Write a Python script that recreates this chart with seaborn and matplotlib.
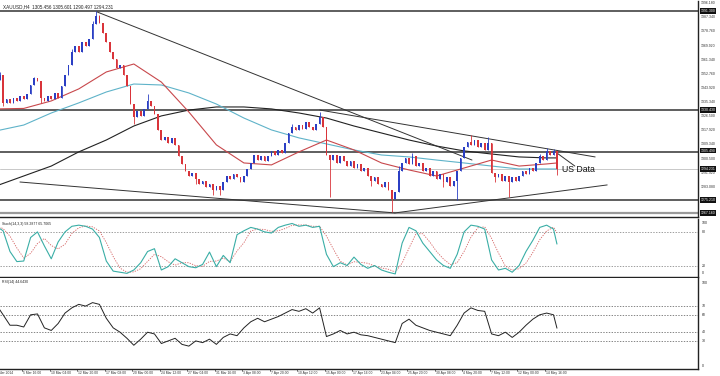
import numpy as np
import pandas as pd
import seaborn as sns
import matplotlib.pyplot as plt
from matplotlib.transforms import blended_transform_factory as blend

# XAUUSD, one candle per 8 hours (2 x H4)
open_first = 1346.0
closes = [
    1349, 1352, 1335, 1337, 1335, 1338, 1336, 1339, 1337, 1340,
    1346, 1350, 1348, 1338, 1336, 1339, 1337, 1341, 1338, 1345,
    1352, 1358, 1366, 1370, 1366, 1372, 1370, 1374, 1383, 1388,
    1384, 1378, 1372, 1366, 1362, 1356, 1358, 1352, 1345, 1334,
    1326, 1330, 1327, 1331, 1336, 1333, 1328, 1318, 1312, 1314,
    1310, 1313, 1309, 1302, 1297, 1293, 1290, 1292, 1288, 1285,
    1287, 1283, 1285, 1281, 1284, 1281, 1286, 1290, 1288, 1291,
    1289, 1286, 1290, 1294, 1298, 1303, 1300, 1302, 1299, 1302,
    1305, 1303, 1306, 1304, 1310, 1316, 1320, 1318, 1321, 1319,
    1323, 1320, 1318, 1322, 1326, 1320, 1303, 1300, 1303, 1298,
    1302, 1299, 1296, 1299, 1295, 1297, 1293, 1295, 1290, 1287,
    1289, 1285, 1283, 1286, 1281, 1276, 1280, 1293, 1298, 1301,
    1297, 1302, 1296, 1298, 1293, 1295, 1290, 1293, 1288, 1291,
    1286, 1289, 1284, 1287, 1293, 1301, 1308, 1311, 1309, 1312,
    1308, 1310, 1306, 1310, 1292, 1289, 1291, 1287, 1290, 1286,
    1289, 1287, 1290, 1293, 1291, 1295, 1293, 1298, 1302, 1300,
    1305, 1303, 1305.5, 1294.231,
]
wick_high = {1: 1354, 11: 1351, 22: 1368, 28: 1385, 29: 1391.5, 30: 1389, 44: 1340, 86: 1322,
             94: 1329, 117: 1296, 121: 1304, 138: 1315, 143: 1314, 158: 1303.5, 160: 1307,
             162: 1306.5}
wick_low = {2: 1333, 13: 1335, 40: 1322, 58: 1285, 63: 1278, 65: 1278, 97: 1277, 109: 1284,
            115: 1268, 130: 1283, 134: 1275, 145: 1286, 149: 1277, 163: 1290.5}

# moving averages, sampled every 8 candles
ma_idx = [0, 8, 16, 24, 32, 40, 48, 56, 64, 72, 80, 88, 96, 104, 112, 120, 128, 136, 144, 152, 160, 163]
ma_red = [1331.1, 1331.4, 1336.0, 1343.4, 1353.8, 1358.7, 1347.6, 1329.2, 1309.0, 1297.9, 1296.7,
          1304.7, 1312.0, 1305.9, 1297.9, 1293.6, 1289.9, 1294.8, 1299.7, 1296.0, 1297.3, 1297.9]
ma_cyan = [1317.6, 1321.2, 1328.6, 1334.8, 1341.5, 1346.4, 1345.8, 1340.9, 1334.1, 1325.5, 1318.2,
           1313.3, 1309.6, 1305.9, 1302.8, 1301.6, 1299.7, 1297.9, 1296.0, 1294.2, 1294.2, 1294.2]
ma_black = [1283.8, 1289.9, 1296.0, 1304.7, 1312.0, 1320.6, 1326.8, 1330.4, 1332.3, 1332.3, 1331.1,
            1328.6, 1325.5, 1320.6, 1316.3, 1312.0, 1308.3, 1305.3, 1303.4, 1301.6, 1301.0, 1301.0]

# oscillators, every 2 candles plus the last one
stoch_k = [90, 82, 45, 27, 28, 70, 80, 55, 32, 62, 80, 90, 92, 90, 85, 70, 28, 10, 8, 6,
           12, 25, 45, 50, 12, 18, 32, 25, 18, 16, 22, 44, 18, 38, 25, 75, 82, 88, 85, 80,
           78, 88, 92, 95, 90, 92, 88, 90, 40, 18, 25, 20, 35, 22, 15, 20, 12, 8, 5, 60,
           88, 82, 60, 45, 30, 20, 15, 40, 80, 92, 90, 85, 30, 12, 15, 8, 20, 45, 65, 88,
           92, 85, 58.29]
rsi = [72, 60, 48, 48, 46, 60, 61, 45, 42, 50, 62, 68, 72, 70, 74, 72, 56, 45, 40, 33,
       25, 32, 40, 38, 27, 30, 33, 26, 24, 30, 28, 32, 26, 34, 38, 36, 45, 52, 56, 52,
       55, 58, 62, 66, 64, 67, 62, 68, 35, 38, 42, 38, 40, 37, 36, 34, 32, 30, 28, 50,
       55, 48, 45, 42, 40, 38, 36, 48, 62, 68, 65, 64, 38, 36, 40, 34, 40, 48, 55, 60,
       62, 60, 44.64]

levels = [1391.3, 1330.4, 1304.6, 1275.2]
trendlines = [((29.3, 1390.7), (138.3, 1299.7)),
              ((94.1, 1330.4), (174.1, 1301.6)),
              ((6.9, 1286.2), (115.9, 1267.2)),
              ((115.9, 1267.2), (177.6, 1284.4)),
              ((163.0, 1304.0), (168.2, 1296.0))]

price_ticks = [1396.180, 1387.340, 1378.760, 1369.920, 1361.340, 1352.760, 1343.920, 1335.340,
               1326.500, 1317.920, 1309.340, 1300.500, 1291.920, 1283.080, 1274.500]
marked = [1391.300, 1330.430, 1305.490, 1294.231, 1275.210, 1267.160]
date_labels = ["3 Mar 2014", "5 Mar 16:00", "10 Mar 04:00", "12 Mar 20:00", "17 Mar 08:00",
               "20 Mar 00:00", "24 Mar 12:00", "27 Mar 04:00", "31 Mar 16:00", "3 Apr 08:00",
               "7 Apr 20:00", "10 Apr 12:00", "15 Apr 00:00", "17 Apr 16:00", "23 Apr 04:00",
               "25 Apr 20:00", "30 Apr 08:00", "4 May 20:00", "7 May 12:00", "12 May 00:00",
               "14 May 16:00"]

sns.set_theme(style="white")
plt.rcParams['font.family'] = ['Liberation Sans', 'DejaVu Sans']

n = len(closes)
idx = np.arange(n)
opens = np.r_[open_first, closes[:-1]]
closes_a = np.array(closes, dtype=float)
osc_idx = np.r_[np.arange(0, n - 1, 2), n - 1]
osc = pd.DataFrame({"j": osc_idx, "k": stoch_k, "rsi": rsi})
osc["d"] = osc["k"].rolling(3, min_periods=1).mean()

fig = plt.figure(figsize=(7.2, 3.76), dpi=100)
ax = fig.add_axes([0, 1 - 217 / 376, 698 / 720, 216 / 376])
ax_s = fig.add_axes([0, 1 - 277 / 376, 698 / 720, 58 / 376])
ax_r = fig.add_axes([0, 1 - 369 / 376, 698 / 720, 91 / 376])
xlim = (1.1, 204.0)
blue, red = "#2b3fc4", "#d9343a"
fs_axis = 2.5

# horizontal levels
for lv in levels:
    ax.axhline(lv, color="#333333", lw=1.1, zorder=1)
ax.axhline(1267.16, color="#9a9a9a", lw=1.6, zorder=1)
ax.axhline(1294.231, color="#c8c8c8", lw=0.7, zorder=1)

# moving averages
sns.lineplot(x=ma_idx, y=ma_black, ax=ax, color="#222222", lw=0.8, zorder=2)
sns.lineplot(x=ma_idx, y=ma_cyan, ax=ax, color="#5fb3c9", lw=0.8, zorder=2)
sns.lineplot(x=ma_idx, y=ma_red, ax=ax, color="#c8484c", lw=0.8, zorder=2)

for (x0, y0), (x1, y1) in trendlines:
    ax.plot([x0, x1], [y0, y1], color="#333333", lw=0.7, zorder=2)

# candles
for j in idx:
    o, c = opens[j], closes_a[j]
    col = blue if c >= o else red
    lo, hi = min(o, c), max(o, c)
    ax.vlines(j, wick_low.get(j, lo), wick_high.get(j, hi), color=col, lw=0.6, zorder=3)
    ax.bar(j, max(hi - lo, 0.4), bottom=lo, width=0.5, color=col, lw=0, zorder=3)

ax.text(164.5, 1294.0, "US Data", fontsize=6.3, color="#111111", va="center", ha="left")
ax.set_ylim(1264.7, 1397.4)

# stochastic
for lv in (80, 20):
    ax_s.axhline(lv, color="#777777", lw=0.5, ls=(0, (2, 2)))
sns.lineplot(data=osc, x="j", y="d", ax=ax_s, color="#d46060", lw=0.6, ls=(0, (1.5, 1.5)))
sns.lineplot(data=osc, x="j", y="k", ax=ax_s, color="#3aaea6", lw=0.8)
ax_s.set_ylim(-0.5, 103)

# RSI
for lv in (70, 60, 40, 30):
    ax_r.axhline(lv, color="#555555", lw=0.5, ls=(0, (2, 2)))
sns.lineplot(data=osc, x="j", y="rsi", ax=ax_r, color="#222222", lw=0.7)
ax_r.set_ylim(-2.3, 102.3)

for a in (ax, ax_s, ax_r):
    a.set_xlim(*xlim)
    a.set_xticks([])
    a.set_yticks([])
    a.set_xlabel("")
    a.set_ylabel("")
    a.set_facecolor("white")
    for side in ("left", "top"):
        a.spines[side].set_visible(False)
    for side in ("right", "bottom"):
        a.spines[side].set_color("#222222")
        a.spines[side].set_linewidth(1.0)

# right-hand price scale
tr = blend(ax.transAxes, ax.transData)
for p in price_ticks:
    ax.text(1.004, p, f"{p:.3f}", transform=tr, fontsize=fs_axis, va="center", ha="left",
            color="#333333", clip_on=False)
for p in marked:
    ax.text(1.004, p, f"{p:.3f}", transform=tr, fontsize=fs_axis, va="center", ha="left",
            color="white", clip_on=False,
            bbox=dict(boxstyle="square,pad=0.2", fc="#111111", ec="none"))

# oscillator scales (end labels sit just inside their panel)
trs = blend(ax_s.transAxes, ax_s.transData)
for v, pos in ((100, 95), (80, 80), (20, 20), (0, 6)):
    ax_s.text(1.006, pos, str(v), transform=trs, fontsize=fs_axis, va="center", ha="left",
              clip_on=False)
trr = blend(ax_r.transAxes, ax_r.transData)
for v, pos in ((100, 97), (70, 70), (60, 60), (40, 40), (30, 30), (0, 1)):
    ax_r.text(1.006, pos, str(v), transform=trr, fontsize=fs_axis, va="center", ha="left",
              clip_on=False)

# panel titles
ax.text(0.004, 0.985, "XAUUSD,H4  1305.456 1305.601 1290.497 1294.231", transform=ax.transAxes,
        fontsize=3.3, va="top", ha="left", color="#222222")
ax_s.text(0.003, 0.95, "Stoch(14,3,3) 58.2877 65.7065", transform=ax_s.transAxes,
          fontsize=2.5, va="top", ha="left", color="#222222")
ax_r.text(0.003, 0.975, "RSI(14) 44.6430", transform=ax_r.transAxes,
          fontsize=2.5, va="top", ha="left", color="#222222")

# date scale
trx = blend(ax_r.transData, ax_r.transAxes)
for k, lab in enumerate(date_labels):
    xt = 8 * k - 0.5
    ax_r.text(xt + 0.3, -0.04, lab, transform=trx, fontsize=2.4, va="center", ha="left",
              color="#333333", clip_on=False)
    ax_r.plot([xt, xt], [0, -0.02], transform=trx, color="#333333", lw=0.5, clip_on=False)

fig.savefig("out.png", dpi=100, facecolor="white")
